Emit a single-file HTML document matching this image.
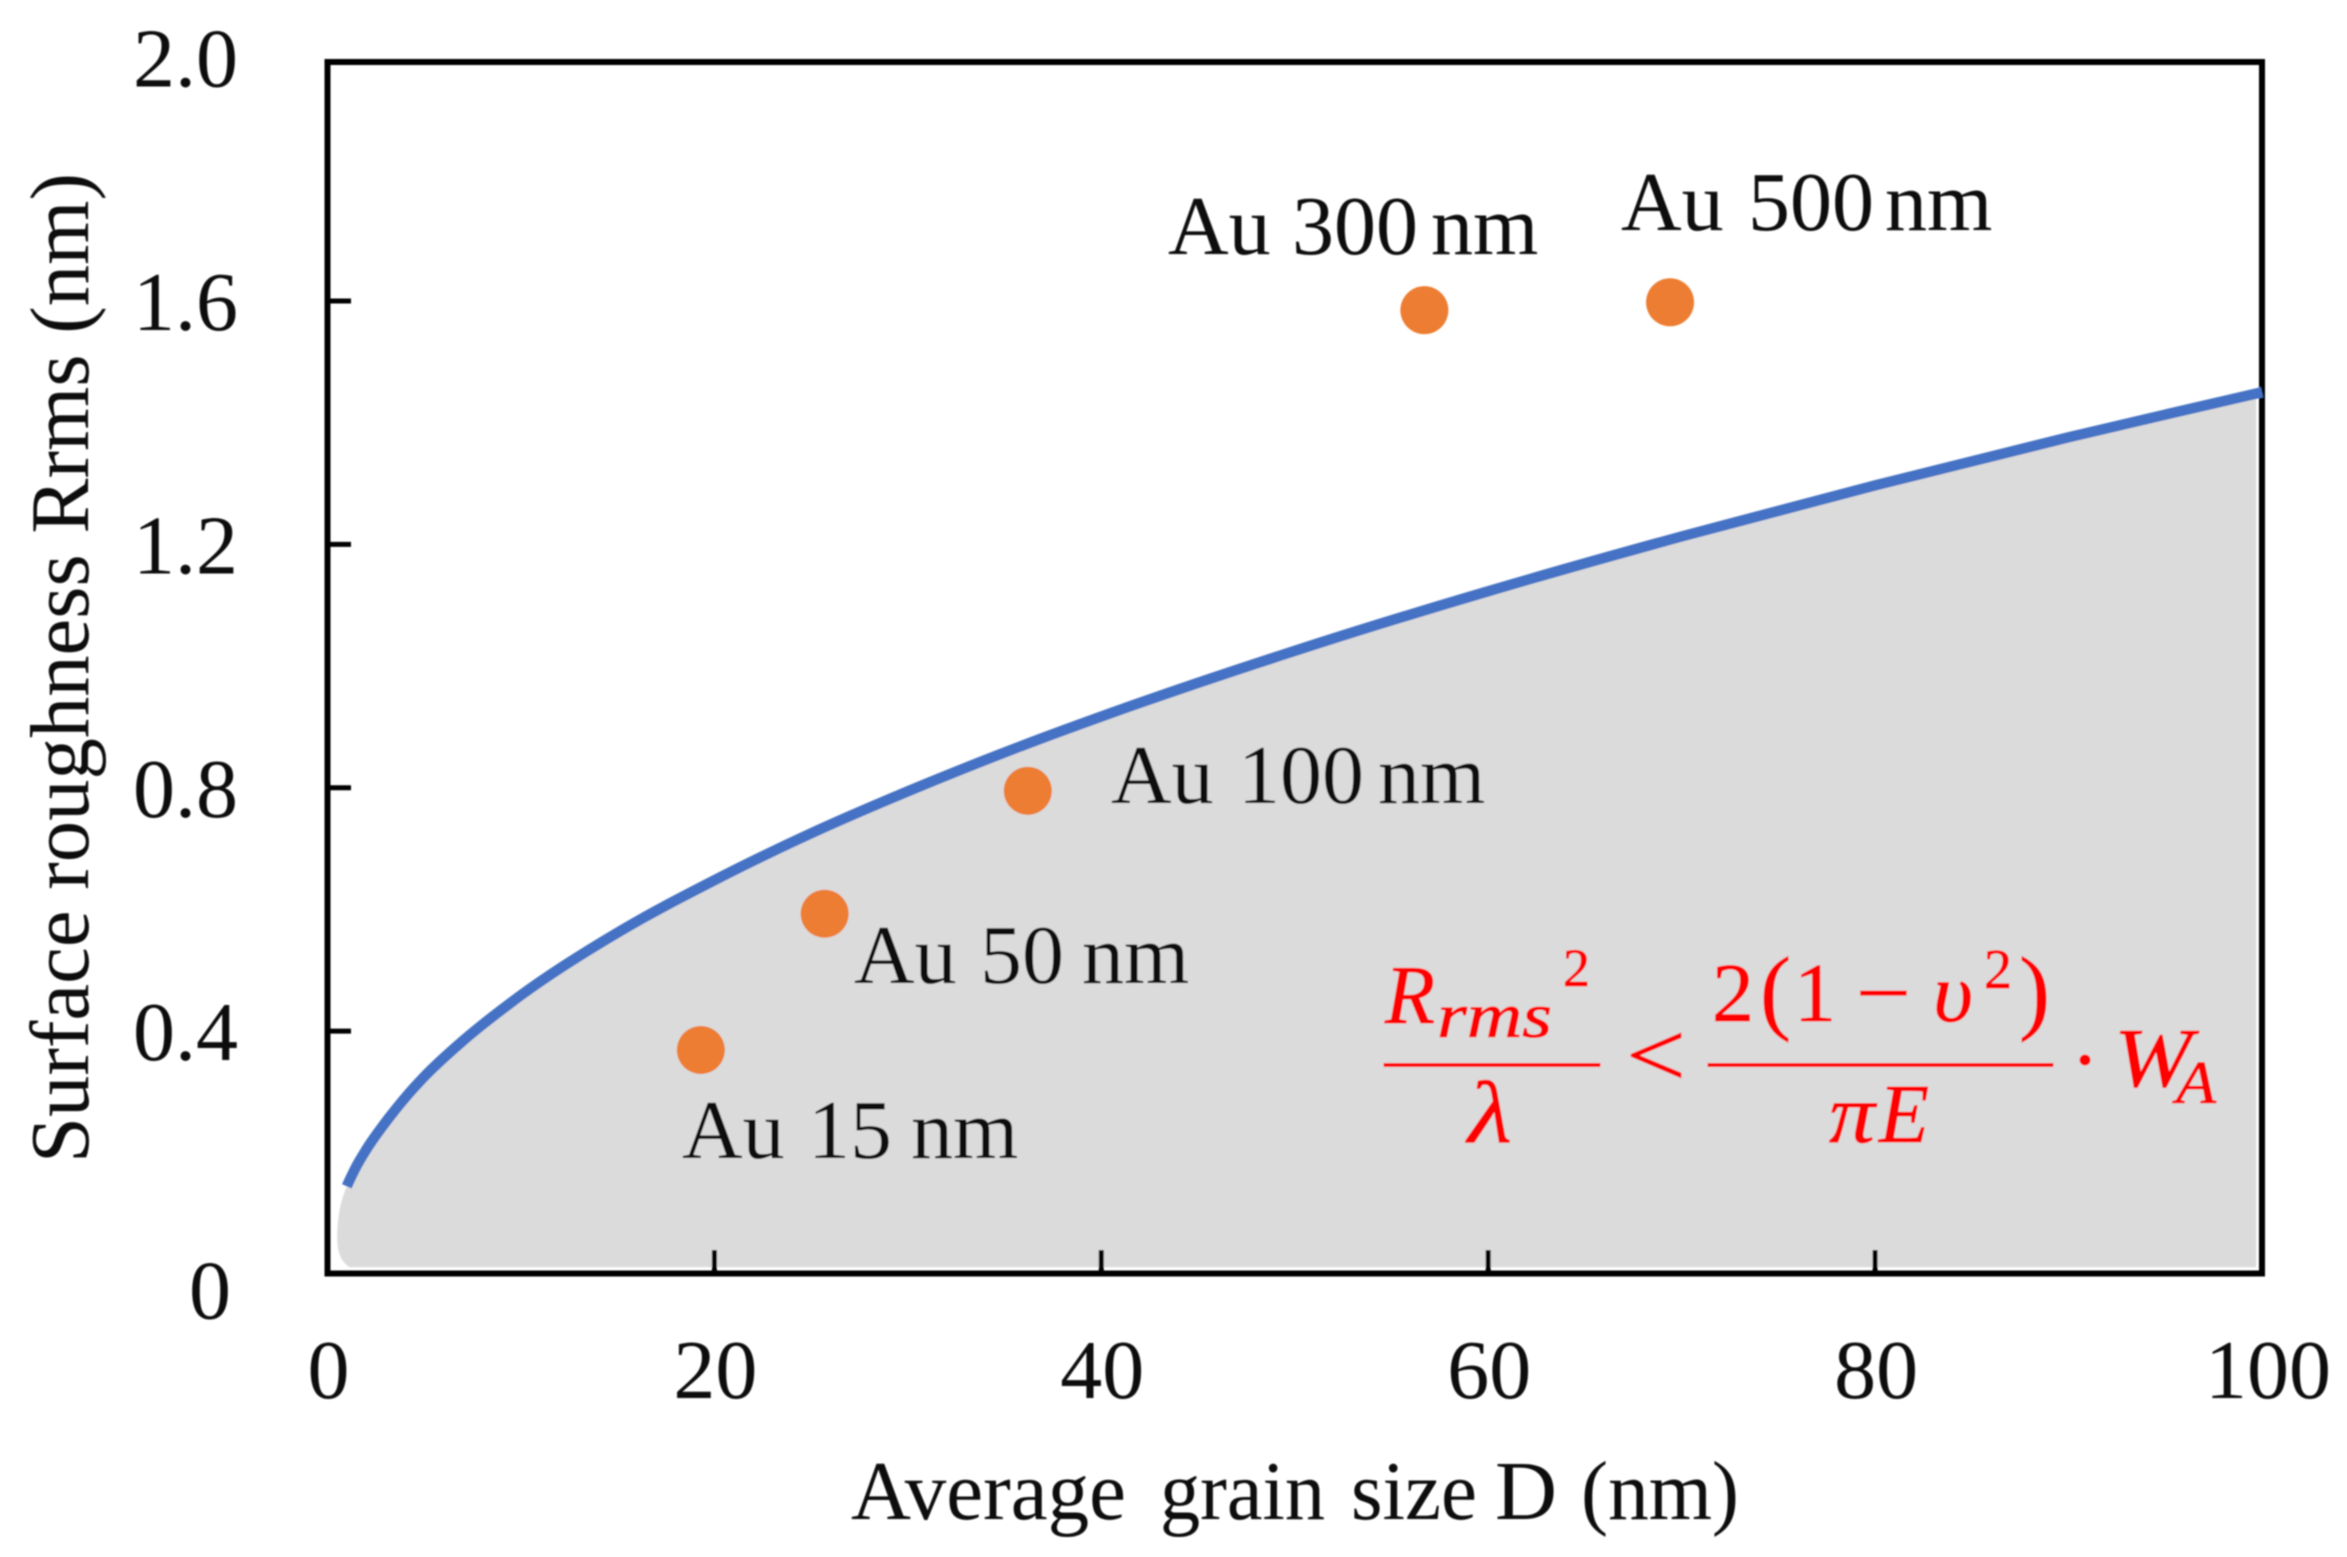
<!DOCTYPE html>
<html lang="en">
<head>
<meta charset="utf-8">
<title>Surface roughness vs grain size</title>
<style>
html,body{margin:0;padding:0;background:#fff;}
svg{display:block;}
text{font-family:"Liberation Serif",serif;fill:#0d0d0d;}
.eq text{fill:#ff0000;stroke:#ff0000;stroke-width:0.9;font-style:italic;}
.eq text.up{font-style:normal;}
</style>
</head>
<body>
<svg id="chart" xmlns="http://www.w3.org/2000/svg" width="2347" height="1557" viewBox="0 0 2347 1557">
  <defs><filter id="soft" x="0" y="0" width="100%" height="100%"><feGaussianBlur stdDeviation="0.7"/></filter></defs>
  <rect width="2347" height="1557" fill="#ffffff"/>
  <g id="root" filter="url(#soft)">
    <path id="area" fill="#dbdbdb"/>
    <rect x="327.5" y="62" width="1934.5" height="1211.5" fill="none" stroke="#000" stroke-width="6"/>
    <g id="ticks"></g>
    <path id="curve" fill="none" stroke="#4472c4" stroke-width="10.5"/>
    <g id="points"></g>
    <g id="tick-labels" font-size="84"></g>

    <g font-size="84">
      <text x="851" y="1519" textLength="275" lengthAdjust="spacingAndGlyphs">Average</text>
      <text x="1160" y="1519" textLength="165" lengthAdjust="spacingAndGlyphs">grain</text>
      <text x="1351" y="1519" textLength="126" lengthAdjust="spacingAndGlyphs">size</text>
      <text x="1495" y="1519" textLength="62" lengthAdjust="spacingAndGlyphs">D</text>
      <text x="1581" y="1519" textLength="158" lengthAdjust="spacingAndGlyphs">(nm)</text>
    </g>
    <text transform="translate(88,1163) rotate(-90)" font-size="84" textLength="990" lengthAdjust="spacingAndGlyphs">Surface roughness Rrms (nm)</text>

    <text y="254" font-size="84"><tspan x="1168">Au</tspan><tspan x="1292">300</tspan><tspan x="1431">nm</tspan></text>
    <text y="230" font-size="84"><tspan x="1621">Au</tspan><tspan x="1748">500</tspan><tspan x="1885">nm</tspan></text>
    <text y="803" font-size="84"><tspan x="1111">Au</tspan><tspan x="1238">100</tspan><tspan x="1378">nm</tspan></text>
    <text y="983" font-size="84"><tspan x="854">Au</tspan><tspan x="980">50</tspan><tspan x="1082">nm</tspan></text>
    <text y="1158" font-size="84"><tspan x="682">Au</tspan><tspan x="808">15</tspan><tspan x="911">nm</tspan></text>

    <g class="eq">
      <text x="1385" y="1023" font-size="84" textLength="50" lengthAdjust="spacingAndGlyphs">R</text>
      <text x="1437" y="1037" font-size="64" textLength="115" lengthAdjust="spacingAndGlyphs">rms</text>
      <text class="up" x="1563" y="986" font-size="54">2</text>
      <rect x="1383.5" y="1063" width="217" height="4" fill="#ff0000"/>
      <text x="1468" y="1142" font-size="88" textLength="44" lengthAdjust="spacingAndGlyphs">λ</text>
      <text class="up" x="1626" y="1086" font-size="92" textLength="60" lengthAdjust="spacingAndGlyphs">&lt;</text>
      <text class="up" x="1712" y="1021" font-size="84">2</text>
      <text class="up" x="1760" y="1022" font-size="94" textLength="31" lengthAdjust="spacingAndGlyphs">(</text>
      <text class="up" x="1794" y="1021" font-size="84">1</text>
      <text class="up" x="1856" y="1021" font-size="84" textLength="55" lengthAdjust="spacingAndGlyphs">−</text>
      <text x="1933" y="1021" font-size="84" textLength="40" lengthAdjust="spacingAndGlyphs">υ</text>
      <text class="up" x="1984" y="988" font-size="56">2</text>
      <text class="up" x="2019" y="1022" font-size="94" textLength="31" lengthAdjust="spacingAndGlyphs">)</text>
      <rect x="1707.5" y="1063" width="346" height="4" fill="#ff0000"/>
      <text x="1829" y="1142" font-size="84" textLength="46" lengthAdjust="spacingAndGlyphs">π</text>
      <text x="1879" y="1142" font-size="84" textLength="50" lengthAdjust="spacingAndGlyphs">E</text>
      <circle cx="2085" cy="1060" r="5.5" fill="#ff0000"/>
      <text x="2114" y="1086" font-size="84" textLength="78" lengthAdjust="spacingAndGlyphs">W</text>
      <text x="2176" y="1103" font-size="60" textLength="40" lengthAdjust="spacingAndGlyphs">A</text>
    </g>
  </g>
</svg>
<script>
const curveD = [1, 1.5, 2, 3, 4, 5, 7, 10, 15, 20, 25, 30, 35, 40, 50, 60, 70, 80, 90, 100];
const curveR = [0.145, 0.178, 0.205, 0.25, 0.29, 0.325, 0.384, 0.459, 0.562, 0.648, 0.725, 0.794, 0.858, 0.917, 1.025, 1.123, 1.213, 1.297, 1.376, 1.45];
const shadeTailD = [0.5, 1.15];
const shadeTailR = [0.06, 0.012];
const shadeEndD = 99.7;
const pointNames = ['au-15', 'au-50', 'au-100', 'au-300', 'au-500'];
const pointD = [19.3, 25.7, 36.2, 56.7, 69.4];
const pointR = [0.369, 0.593, 0.795, 1.585, 1.598];
const xTicks = [0, 20, 40, 60, 80, 100];
const yTicks = [0, 0.4, 0.8, 1.2, 1.6, 2.0];
const yTickLabels = ['0', '0.4', '0.8', '1.2', '1.6', '2.0'];

const NS = 'http://www.w3.org/2000/svg';
function xScale(d) { return 327.5 + d * 19.345; }
function yScale(r) { return 1274.5 - r * 608.4; }
function make(tag, attrs, parent) {
  const el = document.createElementNS(NS, tag);
  for (const k in attrs) el.setAttribute(k, attrs[k]);
  parent.appendChild(el);
  return el;
}
function smooth(pts) {
  const n = pts.length;
  const h = [], s = [], m = [];
  for (let i = 0; i < n - 1; i++) {
    h[i] = pts[i + 1][0] - pts[i][0];
    s[i] = (pts[i + 1][1] - pts[i][1]) / h[i];
  }
  m[0] = s[0] + (s[0] - s[1]) * h[0] / (h[0] + h[1]);
  for (let i = 1; i < n - 1; i++) {
    m[i] = (h[i - 1] * s[i] + h[i] * s[i - 1]) / (h[i - 1] + h[i]);
  }
  m[n - 1] = s[n - 2];
  let d = 'M' + pts[0][0].toFixed(1) + ' ' + pts[0][1].toFixed(1);
  for (let i = 0; i < n - 1; i++) {
    const c1x = pts[i][0] + h[i] / 3, c1y = pts[i][1] + m[i] * h[i] / 3;
    const c2x = pts[i + 1][0] - h[i] / 3, c2y = pts[i + 1][1] - m[i + 1] * h[i] / 3;
    d += 'C' + c1x.toFixed(1) + ' ' + c1y.toFixed(1) + ' ' + c2x.toFixed(1) + ' ' + c2y.toFixed(1) + ' ' + pts[i + 1][0].toFixed(1) + ' ' + pts[i + 1][1].toFixed(1);
  }
  return d;
}
const curvePts = curveD.map(function (d, i) { return [xScale(d), yScale(curveR[i])]; });
const curvePath = smooth(curvePts);
document.getElementById('curve').setAttribute('d', curvePath);
document.getElementById('area').setAttribute('d',
  curvePath +
  'L' + xScale(shadeEndD) + ' ' + yScale(curveR[curveR.length - 1]) +
  'L' + xScale(shadeEndD) + ' ' + yScale(shadeTailR[1]) +
  'L' + xScale(shadeTailD[1]) + ' ' + yScale(shadeTailR[1]) +
  'Q' + xScale(shadeTailD[0]) + ' ' + yScale(shadeTailR[1] * 2) + ' ' + xScale(shadeTailD[0]) + ' ' + yScale(shadeTailR[0]) +
  'Q' + xScale(shadeTailD[0]) + ' ' + yScale(curveR[0] * 0.75) + ' ' + xScale(curveD[0]) + ' ' + yScale(curveR[0]) + 'Z');

const pointsG = document.getElementById('points');
pointD.forEach(function (d, i) {
  const c = make('circle', { cx: xScale(d), cy: yScale(pointR[i]), r: 24, fill: '#ed7d31' }, pointsG);
  
  
});

const ticksG = document.getElementById('ticks');
const labelsG = document.getElementById('tick-labels');
xTicks.forEach(function (v) {
  if (v > 0 && v < 100) {
    const t = make('line', { x1: xScale(v), x2: xScale(v), y1: 1250, y2: 1273, stroke: '#000', 'stroke-width': 5 }, ticksG);
    
    
  }
  const l = make('text', { x: xScale(v) + (v === 100 ? 6 : 1), y: 1398, 'text-anchor': 'middle' }, labelsG);
  l.textContent = String(v);
  
  
});
yTicks.forEach(function (v, i) {
  if (v > 0 && v < 2) {
    const t = make('line', { x1: 328, x2: 351, y1: yScale(v), y2: yScale(v), stroke: '#000', 'stroke-width': 5 }, ticksG);
    
    
  }
  const l = make('text', { x: v === 0 ? 231 : 238, y: yScale(v) + (v === 0 ? 44 : 29), 'text-anchor': 'end' }, labelsG);
  l.textContent = yTickLabels[i];
  
  
});
</script>
</body>
</html>
